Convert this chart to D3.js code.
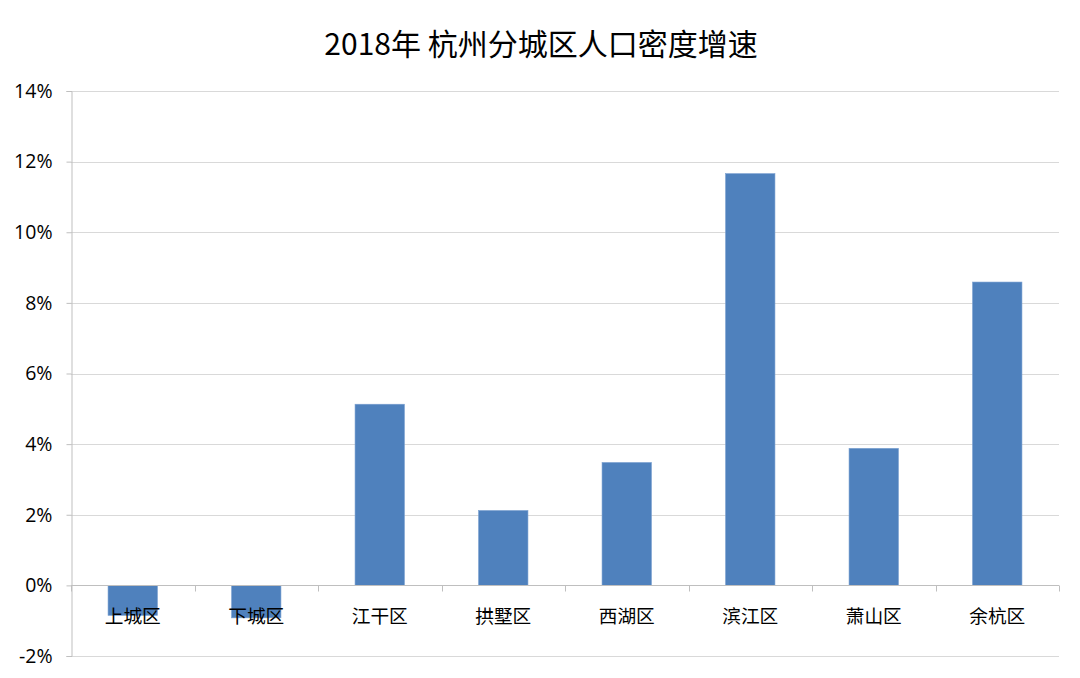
<!DOCTYPE html>
<html><head><meta charset="utf-8">
<script src="https://cdn.jsdelivr.net/npm/d3@7"></script>
<style>body{margin:0;background:#fff;}svg{display:block;}</style>
</head><body>
<script>
const categories = ["上城区","下城区","江干区","拱墅区","西湖区","滨江区","萧山区","余杭区"];
const values = [-0.85, -0.92, 5.13, 2.12, 3.48, 11.66, 3.88, 8.59];
const yTicks = [-2, 0, 2, 4, 6, 8, 10, 12, 14];
const title = "2018年 杭州分城区人口密度增速";

const W = 1080, H = 678;
const mLeft = 71, mRight = 1059, mTop = 91, mBottom = 656;
const svg = d3.select("body").append("svg").attr("width", W).attr("height", H);
const font = "'Noto Sans CJK SC','Noto Sans',sans-serif";

const x = d3.scaleBand().domain(categories).range([mLeft, mRight]).paddingInner(0.6).paddingOuter(0.3);
const y = d3.scaleLinear().domain([-2, 14]).range([mBottom, mTop]);

// gridlines
svg.append("g").selectAll("line").data(yTicks).join("line")
  .attr("x1", mLeft).attr("x2", mRight)
  .attr("y1", d => Math.round(y(d)) + 0.5).attr("y2", d => Math.round(y(d)) + 0.5)
  .attr("stroke", "#d9d9d9").attr("stroke-width", 1);

// y axis
const yAxis = d3.axisLeft(y).tickValues(yTicks).tickFormat(d => d + "%").tickSize(5).tickPadding(3);
const gy = svg.append("g").attr("transform", `translate(${mLeft + 0.5},0)`).call(yAxis);
gy.select(".domain").attr("stroke", "#bfbfbf");
gy.selectAll(".tick line").attr("stroke", "#bfbfbf");
gy.selectAll(".tick text").attr("font-family", "'Open Sans','Noto Sans',sans-serif").attr("font-size", 19.5).attr("fill", "#000").attr("dx", "-11");

// bars
svg.append("g").selectAll("rect").data(values).join("rect")
  .attr("x", (d, i) => x(categories[i]))
  .attr("width", x.bandwidth())
  .attr("y", d => y(Math.max(0, d)))
  .attr("height", d => Math.abs(y(d) - y(0)))
  .attr("fill", "#4f81bd").attr("stroke", "#7aa0d0").attr("stroke-width", 0.6);

// x axis at 0
const boundaries = d3.range(categories.length + 1).map(i => mLeft + i * (mRight - mLeft) / categories.length);
const y0 = Math.round(y(0)) + 0.5;
svg.append("line").attr("x1", mLeft).attr("x2", mRight).attr("y1", y0).attr("y2", y0)
  .attr("stroke", "#bfbfbf");
svg.append("g").selectAll("line").data(boundaries).join("line")
  .attr("x1", d => Math.round(d) + 0.5).attr("x2", d => Math.round(d) + 0.5).attr("y1", y0).attr("y2", y0 + 6)
  .attr("stroke", "#bfbfbf");

// category labels
svg.append("g").selectAll("text").data(categories).join("text")
  .attr("x", d => x(d) + x.bandwidth() / 2)
  .attr("y", y(0) + 38)
  .attr("text-anchor", "middle")
  .attr("font-family", font).attr("font-size", 18.7).attr("fill", "#000")
  .text(d => d);

// title
svg.append("text").attr("x", 541).attr("y", 55).attr("text-anchor", "middle")
  .attr("font-family", font).attr("font-size", 30).attr("fill", "#000").text(title);
</script>
</body></html>
